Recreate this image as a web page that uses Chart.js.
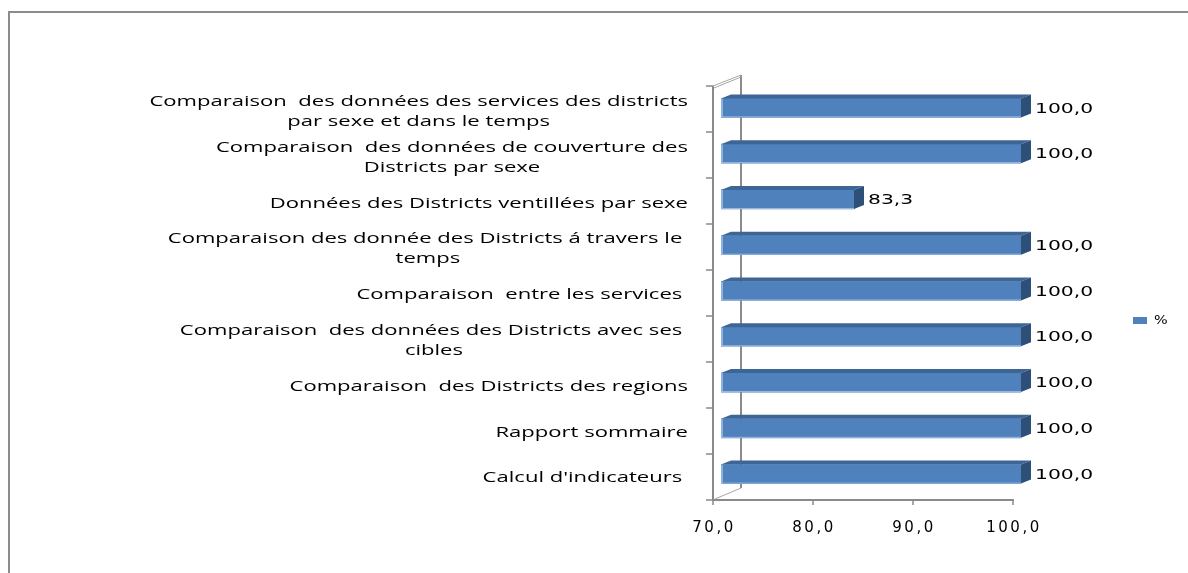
<!DOCTYPE html>
<html>
<head>
<meta charset="utf-8">
<script src="https://cdn.jsdelivr.net/npm/chart.js@4.4.0/dist/chart.umd.min.js"></script>
<style>
    html, body { margin: 0; padding: 0; background: #fff; overflow: hidden; }
    #frame { position: absolute; left: 8px; top: 11px; width: 1200px; height: 600px;
             border-top: 2px solid #8c8c8c; border-left: 2px solid #8c8c8c; }
    #wrap { position: absolute; left: 0; top: 0; width: 1188px; height: 573px; }
</style>
</head>
<body>
<div id="frame"></div>
<div id="wrap"><canvas id="myBarChart"></canvas></div>
<script>
// données du graphique
const categories = [
    ["Comparaison  des données des services des districts", "par sexe et dans le temps"],
    ["Comparaison  des données de couverture des", "Districts par sexe"],
    "Données des Districts ventillées par sexe",
    ["Comparaison des donnée des Districts á travers le ", "temps"],
    "Comparaison  entre les services ",
    ["Comparaison  des données des Districts avec ses ", "cibles"],
    "Comparaison  des Districts des regions",
    "Rapport sommaire",
    "Calcul d'indicateurs "
];
const percentValues = [100, 100, 83.3, 100, 100, 100, 100, 100, 100];
const xTickValues = [70, 80, 90, 100];
const seriesName = "%";

const BAR_COLOR = "#4f81bd";
const AXIS_COLOR = "#8a8a8a";

function formatNumber(v) {
    return v.toFixed(1).replace(".", ",");
}

// dessine un texte étiré horizontalement
function stretchedText(ctx, text, x, y, sx) {
    ctx.save();
    ctx.translate(x, y);
    ctx.scale(sx, 1);
    ctx.fillText(text, 0, 0);
    ctx.restore();
}

const frame3d = {
    id: "frame3d",
    beforeDraw(chart) {
        chart.ctx.letterSpacing = "2.5px";
    },
    beforeDatasetsDraw(chart) {
        const ctx = chart.ctx;
        ctx.letterSpacing = "0px";
        const area = chart.chartArea;
        const x = chart.scales.x;
        const fx = area.left - 8;
        const fTop = area.top + 1;
        const fBottom = area.bottom + 3;
        const bx = fx + 28;
        const bTop = fTop - 11;
        const bBottom = fBottom - 12;

        ctx.save();
        ctx.strokeStyle = AXIS_COLOR;
        ctx.lineWidth = 2;
        ctx.beginPath();
        // mur du fond
        ctx.moveTo(bx, bTop); ctx.lineTo(bx, bBottom);
        // plan avant
        ctx.moveTo(fx, fTop); ctx.lineTo(fx, fBottom);
        ctx.lineTo(x.getPixelForValue(xTickValues[xTickValues.length - 1]) - 7, fBottom);
        ctx.stroke();

        ctx.lineWidth = 1;
        ctx.strokeStyle = "#a6a6a6";
        ctx.beginPath();
        ctx.moveTo(fx, fTop); ctx.lineTo(bx, bTop);
        ctx.moveTo(fx + 1, fTop + 2); ctx.lineTo(bx, bTop + 2);
        ctx.moveTo(fx + 2, fBottom - 1); ctx.lineTo(bx, bBottom);
        ctx.stroke();

        // graduations
        ctx.strokeStyle = AXIS_COLOR;
        ctx.lineWidth = 1.5;
        ctx.beginPath();
        const n = categories.length;
        for (let k = 0; k <= n; k++) {
            const ty = fTop + (fBottom - fTop) * k / n;
            ctx.moveTo(fx - 7, ty); ctx.lineTo(fx, ty);
        }
        xTickValues.forEach(v => {
            const tx = x.getPixelForValue(v) - 8;
            ctx.moveTo(tx, fBottom); ctx.lineTo(tx, fBottom + 5);
        });
        ctx.stroke();
        ctx.restore();
    },
    afterDatasetsDraw(chart) {
        const ctx = chart.ctx;
        const area = chart.chartArea;
        const meta = chart.getDatasetMeta(0);
        const yScale = chart.scales.y;
        const dx = 10, dy = 4;

        ctx.save();
        meta.data.forEach((bar, i) => {
            const p = bar.getProps(["x", "y", "base", "height"], true);
            const base = Math.max(p.base, area.left);
            const top = p.y - p.height / 2;
            const bottom = p.y + p.height / 2;
            // reflets
            ctx.fillStyle = "#8eb1de";
            ctx.fillRect(base, top, 2, p.height);
            ctx.fillStyle = "#9fbbe0";
            ctx.fillRect(base, bottom - 1, p.x - base, 1);
            // face du dessus
            ctx.fillStyle = "#3d6596";
            ctx.beginPath();
            ctx.moveTo(base, top);
            ctx.lineTo(base + dx, top - dy);
            ctx.lineTo(p.x + dx, top - dy);
            ctx.lineTo(p.x, top);
            ctx.closePath();
            ctx.fill();
            // face de côté
            ctx.fillStyle = "#2e4f78";
            ctx.beginPath();
            ctx.moveTo(p.x, top);
            ctx.lineTo(p.x + dx, top - dy);
            ctx.lineTo(p.x + dx, bottom - dy);
            ctx.lineTo(p.x, bottom);
            ctx.closePath();
            ctx.fill();

            // étiquette de valeur
            ctx.fillStyle = "#000";
            ctx.font = '14px "DejaVu Sans"';
            ctx.textAlign = "left";
            ctx.textBaseline = "middle";
            stretchedText(ctx, formatNumber(percentValues[i]), p.x + dx + 4, p.y + 1, 1.45);
        });

        // étiquettes des catégories
        ctx.font = '15px "Open Sans"';
        ctx.fillStyle = "#000";
        ctx.textAlign = "center";
        ctx.textBaseline = "middle";
        const sx = 1.47;
        const right = 688;
        categories.forEach((label, i) => {
            const lines = Array.isArray(label) ? label : [label];
            const widths = lines.map(l => ctx.measureText(l).width * sx);
            const blockW = Math.max(...widths);
            const cx = right - blockW / 2;
            const cy = yScale.getPixelForValue(i) + 4;
            lines.forEach((l, j) => {
                stretchedText(ctx, l, cx, cy + (j - (lines.length - 1) / 2) * 20, sx);
            });
        });

        // légende
        ctx.fillStyle = BAR_COLOR;
        ctx.fillRect(1133, 317, 14, 7);
        ctx.fillStyle = "#000";
        ctx.font = '12px "DejaVu Sans"';
        ctx.textAlign = "left";
        stretchedText(ctx, seriesName, 1154, 321, 1.2);
        ctx.restore();
    }
};

let myBarChart;

function drawChart(labels, data) {
    const ctx = document.getElementById("myBarChart").getContext("2d");

    myBarChart = new Chart(ctx, {
        type: "bar",
        data: {
            labels: labels,
            datasets: [{
                label: seriesName,
                backgroundColor: BAR_COLOR,
                borderWidth: 0,
                barThickness: 19,
                data: data,
            }],
        },
        options: {
            indexAxis: "y",
            responsive: true,
            maintainAspectRatio: false,
            animation: false,
            devicePixelRatio: 1,
            layout: { padding: { top: 85, right: 167, left: 0, bottom: 0 } },
            plugins: {
                legend: { display: false },
                tooltip: { enabled: false },
            },
            scales: {
                x: {
                    min: 70,
                    max: 100,
                    afterBuildTicks: scale => {
                        scale.ticks = xTickValues.map(v => ({ value: v }));
                    },
                    afterFit: scale => { scale.height = 76; },
                    grid: { display: false, drawTicks: false },
                    border: { display: false },
                    ticks: {
                        padding: 22,
                        labelOffset: -7,
                        color: "#000",
                        font: { family: "DejaVu Sans", size: 15 },
                        callback: v => formatNumber(v),
                    }
                },
                y: {
                    afterFit: scale => { scale.width = 721; },
                    grid: { display: false, drawTicks: false },
                    border: { display: false },
                    ticks: { display: false },
                }
            }
        },
        plugins: [frame3d]
    });
}

window.addEventListener("DOMContentLoaded", function () {
    drawChart(categories, percentValues);
});
</script>
</body>
</html>
